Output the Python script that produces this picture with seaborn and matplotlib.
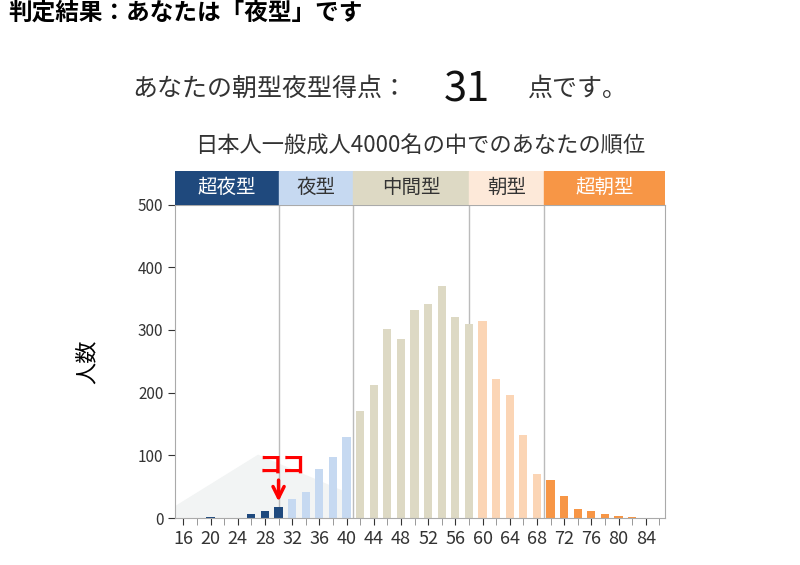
import matplotlib
matplotlib.use("Agg")
import matplotlib.pyplot as plt
import seaborn as sns
import pandas as pd

plt.rcParams["font.family"] = "Noto Sans CJK JP"

scores = list(range(16, 86, 2))
counts = [0, 0, 2, 0, 0, 6, 12, 18, 30, 42, 78, 98, 130, 170, 212, 302, 286, 332,
          342, 370, 320, 310, 315, 222, 197, 132, 70, 60, 35, 14, 12, 7, 3, 2, 0]
bands = ["超夜型", "夜型", "中間型", "朝型", "超朝型"]
band_edges = [14.8, 30, 41, 58, 69, 86.8]
band_colors = ["#1f497d", "#c6d9f1", "#ddd9c4", "#fde9d9", "#f79646"]
bar_colors = ["#1f497d", "#c6d9f1", "#ddd9c4", "#fbd5b5", "#f79646"]
my_score = 30

df = pd.DataFrame({"score": scores, "count": counts})

def band_of(s):
    for i in range(5):
        if s < band_edges[i + 1] or i == 4:
            if s <= 30 and i == 0:
                return 0
            if s <= band_edges[i + 1]:
                return i
    return 4

df["band"] = [0 if s <= 30 else 1 if s <= 40 else 2 if s <= 58 else 3 if s <= 68 else 4 for s in scores]

fig = plt.figure(figsize=(8, 5.65), dpi=100)
ax = fig.add_axes([0.219, 0.083, 0.612, 0.555])
xmin, xmax = band_edges[0], band_edges[-1]

# faint triangle behind low scores
ax.fill([xmin, 27, 40, 40, xmin], [18, 100, 40, 0, 0], color="#f2f4f4", zorder=0)
for e in band_edges[1:-1]:
    ax.axvline(e, color="#bbbbbb", lw=1, zorder=1)

colors = [bar_colors[b] for b in df["band"]]
for s, c, col in zip(df["score"], df["count"], colors):
    ax.bar(s, c, width=1.2, color=col, zorder=2)

ax.set_xlim(xmin, xmax)
ax.set_ylim(0, 500)
ax.set_xticks(range(16, 86, 4))
ax.set_xticks(range(16, 88, 2), minor=True)
ax.set_yticks(range(0, 501, 100))
ax.tick_params(axis="x", labelsize=13, colors="#333333", length=5, direction="out")
ax.tick_params(axis="x", which="minor", length=5, color="#888888")
ax.tick_params(axis="y", labelsize=11, colors="#333333", length=5)
for sp in ax.spines.values():
    sp.set_color("#aaaaaa")
ax.set_ylabel("人数", fontsize=16, labelpad=28)

# arrow for your score
ax.annotate("", xy=(my_score, 22), xytext=(my_score, 65),
            arrowprops=dict(arrowstyle="->", color="red", lw=2.5, mutation_scale=20))
ax.text(my_score + 0.5, 72, "ココ", color="red", fontsize=17, ha="center", fontweight="bold")

# band header
hx = fig.add_axes([0.219, 0.638, 0.612, 0.06])
for i, name in enumerate(bands):
    hx.axvspan(band_edges[i], band_edges[i + 1], color=band_colors[i])
    tc = "white" if i in (0, 4) else "#333333"
    hx.text((band_edges[i] + band_edges[i + 1]) / 2, 0.5, name, color=tc,
            ha="center", va="center", fontsize=14)
hx.set_xlim(xmin, xmax)
hx.set_ylim(0, 1)
hx.axis("off")

fig.text(0.01, 0.965, "判定結果：あなたは「夜型」です", fontsize=17, fontweight="bold")
fig.text(0.165, 0.83, "あなたの朝型夜型得点：", fontsize=18, color="#333333")
fig.text(0.555, 0.82, "31", fontsize=30, color="#111111")
fig.text(0.66, 0.83, "点です。", fontsize=18, color="#333333")
fig.text(0.525, 0.73, "日本人一般成人4000名の中でのあなたの順位", fontsize=16,
         color="#333333", ha="center")

fig.savefig("out.png", dpi=100)
